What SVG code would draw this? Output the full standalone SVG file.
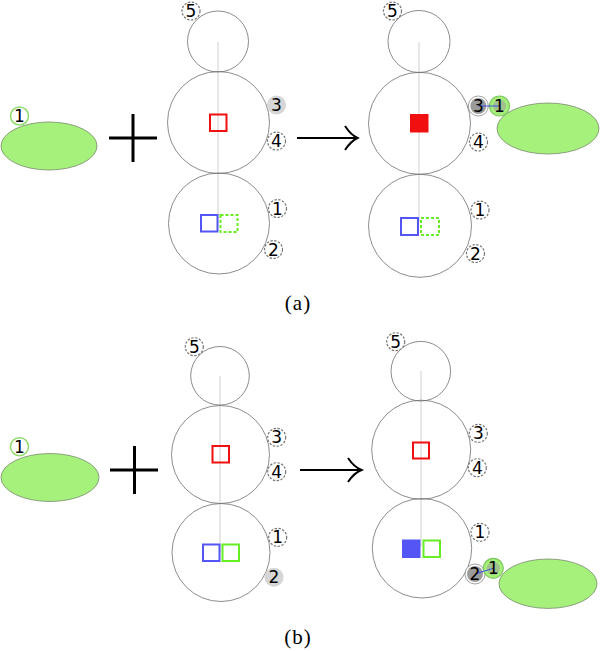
<svg xmlns="http://www.w3.org/2000/svg" width="600" height="651" viewBox="0 0 600 651">
<style>
.body{fill:none;stroke:#6e6e6e;stroke-width:0.8}
.axis{stroke:#c4c4c4;stroke-width:0.8}
.dash{fill:#fff;stroke:#777;stroke-width:1.2;stroke-dasharray:2.4,1.5}
.gfill{fill:#d6d6d6;stroke:none}
.ring{fill:#fff;stroke:#8a8a8a;stroke-width:0.8}
.dark{fill:#9b9b9b;stroke:none}
.glab{fill:#fff;stroke:#8fdc6a;stroke-width:1.5}
.gon{fill:#a6ee7c;stroke:#7dc85a;stroke-width:1.2}
.ell{fill:#a6f07c;stroke:#7a8a70;stroke-width:0.8}
.num{font-family:"DejaVu Sans",sans-serif;font-size:17px;text-anchor:middle;fill:#000}
.red{fill:none;stroke:#f01010;stroke-width:2}
.redf{fill:#f01010;stroke:#f01010;stroke-width:2}
.blue{fill:none;stroke:#5555f5;stroke-width:2}
.bluef{fill:#5555f5;stroke:#5555f5;stroke-width:2}
.grn{fill:none;stroke:#66ee22;stroke-width:2}
.grnd{fill:none;stroke:#66ee22;stroke-width:2;stroke-dasharray:3,2}
.sym{fill:none;stroke:#000;stroke-width:3}
.arr{fill:none;stroke:#000;stroke-width:2}
.cap{font-family:"Liberation Serif",serif;font-size:21px;letter-spacing:1px;text-anchor:middle;fill:#000}
.link{stroke:#3344ee;stroke-width:0.9}
</style>

<!-- ===== Panel (a) ===== -->
<g id="a-ligand">
<ellipse class="ell" cx="49" cy="146" rx="48" ry="24"/>
<circle class="glab" cx="19.5" cy="116" r="9"/>
<text class="num" x="19.5" y="122">1</text>
</g>
<g id="a-plus"><path class="sym" d="M109,138 H157 M133,114 V162"/></g>

<g id="a-left-snowman">
<line class="axis" x1="218" y1="42" x2="218" y2="220"/>
<circle class="body" cx="218" cy="41.5" r="30.5"/>
<circle class="body" cx="218.5" cy="122.5" r="51"/>
<circle class="body" cx="219" cy="223.5" r="50.5"/>
<rect class="red" x="210" y="114.5" width="16.5" height="16.5"/>
<rect class="blue" x="201" y="215" width="16.5" height="16.5"/>
<rect class="grnd" x="220.5" y="215" width="17" height="17"/>
</g>
<g id="a-left-sites">
<circle class="dash" cx="191" cy="11" r="9"/><text class="num" x="191" y="17">5</text>
<circle class="gfill" cx="276.5" cy="105" r="9.5"/><text class="num" x="276.5" y="111">3</text>
<circle class="dash" cx="276.5" cy="141" r="9"/><text class="num" x="276.5" y="147">4</text>
<circle class="dash" cx="277.5" cy="208.5" r="9"/><text class="num" x="277.5" y="214.5">1</text>
<circle class="dash" cx="273.5" cy="249.5" r="9"/><text class="num" x="273.5" y="255.5">2</text>
</g>

<g id="a-arrow"><path class="arr" d="M297,138 H357 M345,126 Q351,135 357.5,138 Q351,141 345,150"/></g>

<g id="a-right-snowman">
<line class="axis" x1="419" y1="42" x2="419" y2="222"/>
<circle class="body" cx="419" cy="41.5" r="31"/>
<circle class="body" cx="419.5" cy="123.3" r="51"/>
<circle class="body" cx="420" cy="225.8" r="51.5"/>
<rect class="redf" x="411" y="115" width="16.5" height="16.5"/>
<rect class="blue" x="401" y="218" width="17" height="17"/>
<rect class="grnd" x="421" y="218" width="18" height="17"/>
</g>
<g id="a-right-sites">
<circle class="dash" cx="392.5" cy="11" r="9"/><text class="num" x="392.5" y="17">5</text>
<circle class="dash" cx="478.5" cy="142" r="9"/><text class="num" x="478.5" y="148">4</text>
<circle class="dash" cx="480" cy="210" r="9"/><text class="num" x="480" y="216">1</text>
<circle class="dash" cx="475.5" cy="253.5" r="9"/><text class="num" x="475.5" y="259.5">2</text>
</g>
<g id="a-bound-ligand">
<ellipse class="ell" cx="548" cy="128.5" rx="51" ry="25.5"/>
<circle class="ring" cx="478.3" cy="106" r="10"/>
<circle class="dark" cx="478.3" cy="106" r="8"/>
<circle class="gon" cx="499.5" cy="106" r="10"/>
<circle class="dark" cx="499.5" cy="106" r="6.5" opacity="0.55"/>
</g>
<g id="a-bond">
<line class="link" x1="478.3" y1="106" x2="499.5" y2="106"/>
<text class="num" x="478.3" y="112">3</text>
<text class="num" x="499.5" y="112">1</text>
</g>
<text class="cap" x="298" y="310">(a)</text>

<!-- ===== Panel (b) ===== -->
<g id="b-ligand">
<ellipse class="ell" cx="50" cy="477.5" rx="49" ry="24"/>
<circle class="glab" cx="19.5" cy="446.7" r="9"/>
<text class="num" x="19.5" y="452.7">1</text>
</g>
<g id="b-plus"><path class="sym" d="M110,470 H158 M134.5,446 V494"/></g>

<g id="b-left-snowman">
<line class="axis" x1="220" y1="376" x2="220" y2="552"/>
<circle class="body" cx="220" cy="375.8" r="29.3"/>
<circle class="body" cx="220.5" cy="454.5" r="49"/>
<circle class="body" cx="221" cy="552.5" r="49"/>
<rect class="red" x="212.5" y="446" width="16.5" height="16.5"/>
<rect class="blue" x="203" y="544.5" width="16.5" height="16.5"/>
<rect class="grn" x="222.5" y="544.5" width="16.5" height="16.5"/>
</g>
<g id="b-left-sites">
<circle class="dash" cx="194.3" cy="346.7" r="9"/><text class="num" x="194.3" y="352.7">5</text>
<circle class="dash" cx="276.7" cy="437.3" r="9"/><text class="num" x="276.7" y="443.3">3</text>
<circle class="dash" cx="276.7" cy="471.7" r="9"/><text class="num" x="276.7" y="477.7">4</text>
<circle class="dash" cx="277.7" cy="537.3" r="9"/><text class="num" x="277.7" y="543.3">1</text>
<circle class="gfill" cx="274" cy="577.3" r="9.5"/><text class="num" x="274" y="583.3">2</text>
</g>

<g id="b-arrow"><path class="arr" d="M300,470 H361 M348,458 Q354,467 361.5,470 Q354,473 348,482"/></g>

<g id="b-right-snowman">
<line class="axis" x1="421" y1="371" x2="421" y2="547"/>
<circle class="body" cx="420.8" cy="371.2" r="29.8"/>
<circle class="body" cx="421.2" cy="449.7" r="49.5"/>
<circle class="body" cx="422" cy="548.3" r="49.7"/>
<rect class="red" x="413" y="442.5" width="16" height="16"/>
<rect class="bluef" x="403" y="540.5" width="16.5" height="16.5"/>
<rect class="grn" x="423.5" y="540.5" width="16.5" height="16.5"/>
</g>
<g id="b-right-sites">
<circle class="dash" cx="395.7" cy="341.7" r="9"/><text class="num" x="395.7" y="347.7">5</text>
<circle class="dash" cx="478.3" cy="433.3" r="9"/><text class="num" x="478.3" y="439.3">3</text>
<circle class="dash" cx="477.3" cy="467.7" r="9"/><text class="num" x="477.3" y="473.7">4</text>
<circle class="dash" cx="480" cy="532.3" r="9"/><text class="num" x="480" y="538.3">1</text>
</g>
<g id="b-bound-ligand">
<ellipse class="ell" cx="548" cy="583.7" rx="49" ry="24.7"/>
<circle class="ring" cx="475" cy="574" r="10"/>
<circle class="dark" cx="475" cy="574" r="8"/>
<circle class="gon" cx="493.3" cy="568.3" r="10"/>
<circle class="dark" cx="493.3" cy="568.3" r="6.5" opacity="0.55"/>
</g>
<g id="b-bond">
<line class="link" x1="475" y1="574" x2="493.3" y2="568.3"/>
<text class="num" x="475" y="580">2</text>
<text class="num" x="493.3" y="574.3">1</text>
</g>
<text class="cap" x="298" y="644">(b)</text>
</svg>
